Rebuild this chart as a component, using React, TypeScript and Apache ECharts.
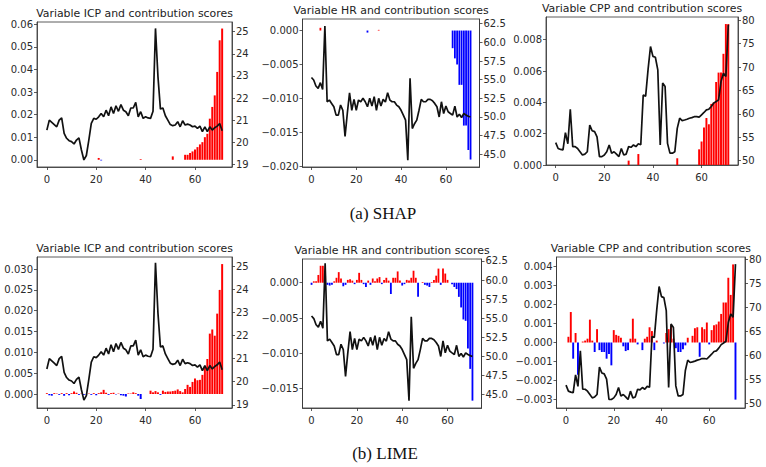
import React, { useEffect, useRef } from "react";
import * as echarts from "echarts";

// ---------------- data ----------------
const steps = Array.from({ length: 72 }, (_, i) => i);

const icpLine = [
  20.55, 21.0, 20.9, 20.8, 20.7, 21.0, 21.1, 20.4, 20.18, 20.07,
  20.03, 19.92, 20.1, 20.2, 19.65, 19.2, 19.4, 20.1, 20.85, 21.08,
  21.04, 21.15, 21.3, 21.15, 21.45, 21.2, 21.6, 21.3, 21.65, 21.4,
  21.7, 21.45, 21.38, 21.2, 21.55, 21.55, 21.8, 21.15, 21.38, 21.08,
  21.15, 21.1, 21.08, 21.4, 25.15, 22.97, 21.5, 21.55, 21.2, 21.0,
  20.8, 20.75, 20.78, 20.93, 20.7, 20.97, 20.78, 20.82, 20.78, 20.7,
  20.73, 20.63, 20.73, 20.48, 20.7, 20.48, 20.7, 20.55, 20.66, 20.73,
  20.85, 20.52,
];
const hrLine = [
  55.3, 54.96, 54.15, 53.84, 54.6, 53.7, 62.2, 52.04, 52.27, 51.82,
  51.37, 50.25, 50.25, 51.6, 50.9, 47.4, 50.47, 53.25, 50.9, 52.36,
  50.9, 52.27, 52.04, 52.5, 52.04, 51.37, 52.5, 51.46, 52.72, 50.9,
  52.5, 51.46, 52.36, 52.0, 53.25, 52.27, 52.04, 52.04, 51.6, 51.37,
  50.9, 50.25, 49.58, 44.2, 55.2, 48.45, 49.1, 49.58, 50.9, 52.36,
  52.04, 52.04, 52.36, 52.36, 52.18, 51.82, 51.37, 50.0, 52.04, 50.47,
  51.46, 50.7, 50.47, 50.25, 51.46, 50.0, 50.38, 49.93, 50.47, 50.25,
  50.11, 50.0,
];
const cppLine = [
  53.86, 52.6, 52.4, 52.3, 56.0, 53.6, 61.0, 53.0, 53.0, 52.6,
  51.9, 51.2, 51.4, 51.9, 57.6, 56.4, 56.2, 55.1, 50.86, 50.86,
  51.2, 51.9, 53.36, 51.6, 51.9, 51.4, 50.86, 52.6, 51.2, 51.4,
  53.0, 52.86, 53.36, 53.0, 53.6, 53.4, 64.0, 63.8, 69.5, 74.4,
  72.3, 72.1, 69.4, 53.36, 66.6, 65.86, 53.7, 51.6, 51.6, 51.9,
  56.9, 59.07, 58.57, 58.7, 58.86, 59.07, 59.2, 59.4, 59.4, 59.3,
  59.8, 60.3, 60.86, 61.0, 61.57, 62.3, 62.64, 63.0, 66.9, 68.7,
  68.0, 79.07,
];

const shapICP = [
  0, 0, 0, 0, 0, 0, 0, 0, 0, 0,
  0, 0, 0, 0, 0, 0, 0, 0, 0, 0,
  0, 0.0008, -0.0003, 0, 0, 0, 0, 0, 0, 0,
  0, 0, 0, 0, 0, 0, 0, 0, 0.0003, 0,
  0, 0, 0, 0, 0, 0, 0, 0, 0, 0,
  0, 0.0015, 0, 0, 0, 0, 0.0022, 0.0022, 0.003, 0.0037,
  0.0046, 0.0056, 0.0068, 0.0078, 0.01, 0.0115, 0.0182, 0.0234, 0.0285, 0.0389,
  0.0529, 0.0581,
];
const shapHR = [
  0, 0, 0, 0, 0.0004, 0, 0, 0, 0, 0,
  0, 0, 0, 0, 0, 0, 0, 0, 0, 0,
  0, 0, 0, 0, 0, -0.0003, 0, 0, 0, 0,
  0.0001, 0, 0, 0, 0, 0, 0, 0, 0, 0,
  0, 0, 0, 0, 0, 0, 0, 0, 0, 0,
  0, 0, 0, 0, 0, 0, 0, 0, 0, 0,
  0, 0, 0, -0.0026, -0.0041, -0.005, -0.008, -0.008, -0.014, -0.014,
  -0.0176, -0.019,
];
const shapCPP = [
  0, 0, 0, 0, 0, 0, 0, 0, 0, 0,
  0, 0, 0, 0, 0, 0, 0, 0, 0, 0,
  0, 0, 0, 0, 0, 0, 0, 0, 0, 0,
  0.00028, 0, 0, 0, 0.0007, 0, 0, 0, 0, 0,
  0, 0, 0, 0, 0, 0, 0, 0, 0, 0,
  0.00043, 0, 0, 0, 0, 0, 0, 0, 0, 0.001,
  0.0015, 0.0024, 0.003, 0.0026, 0.0039, 0.004, 0.0053, 0.0059, 0.0059, 0.0071,
  0.009, 0.009,
];
const limeICP = [
  0.0002, -0.0003, -0.0004, 0.0002, 0.0001, -0.0002, 0.0002, -0.0004, 0.0002, -0.0003,
  0.0002, 0.0006, 0.0003, -0.0002, 0.0001, -0.0002, -0.0001, 0.0001, -0.0002, 0.0002,
  -0.0003, 0.0002, 0.0004, 0.001, 0.0003, -0.0002, 0.0002, 0.0003, -0.0001, 0.0001,
  -0.0003, -0.0004, -0.0006, 0.0001, 0.0001, 0.0004, 0.0002, -0.0004, -0.0012, 0,
  0, 0, 0.0008, 0.0004, 0.0007, 0.0004, -0.0002, 0.0008, 0.0005, 0.0006,
  0.0006, 0.0007, 0.0008, 0.0011, 0.0007, 0.0004, 0.0012, 0.0022, 0.0017, 0.0029,
  0.0037, 0.0033, 0.0034, 0.0046, 0.0067, 0.0084, 0.0145, 0.0155, 0.014, 0.0193,
  0.025, 0.0312,
];
const limeHR = [
  -0.0003, 0.0002, 0.0002, 0.0011, 0.0024, 0.0024, 0.001, -0.0003, -0.0004, -0.0003,
  0.0002, 0.0007, 0.0015, 0.0006, -0.0005, -0.0003, 0.0004, 0.0005, 0.0003, -0.0002,
  0.0004, 0.0014, 0.0004, -0.0002, -0.0006, 0.0003, -0.0003, 0.0006, 0.0002, 0.0006,
  0.0008, -0.0002, 0.0004, 0.0007, 0.0003, -0.0016, 0.0007, 0.0007, 0.0016, 0.0003,
  -0.0004, -0.0002, 0.0004, 0.0003, 0.0007, 0.0017, 0.0007, -0.002, 0, 0.0001,
  -0.0003, -0.0004, -0.0006, 0.0001, 0.0004, 0.001, 0.002, -0.0003, 0.002, 0.0013,
  0.0004, 0, -0.0002, -0.0006, -0.0009, -0.002, -0.0035, -0.0052, -0.0054, -0.0093,
  -0.0122, -0.0167,
];
const limeCPP = [
  0, 0.0003, 0.0016, -0.00085, 0.0005, -0.0017, 0, 0.00005, 0.0001, 0.0002,
  0.0012, 0.0001, -0.0005, 0.0007, -0.0004, -0.0005, -0.0005, -0.00085, -0.0006, -0.0012,
  0.00065, 0.0004, 0.00035, 0.00025, -0.0002, -0.00045, -0.0004, 0.0002, 0.00125, 0.0002,
  -0.0001, 0, -0.0004, 0.0002, 0.0003, 0.0008, 0.0006, -0.0004, 0.0001, 0,
  0, -0.00005, 0.0005, 0.0007, 0.0009, 0.0002, -0.0003, -0.0005, -0.0005, -0.00035,
  -0.00015, 0.00025, 0, 0.00035, 0.00075, 0.0008, -0.00075, 0.0008, 0.0007, 0.00105,
  -0.0001, 0.00065, 0.0009, 0.00095, 0.0011, 0.0015, 0.0021, 0.0021, 0.0034, 0.0025,
  0.0041, -0.003,
];

// tick labels
const xTicks = [0, 20, 40, 60];
const icpShapTicks = [0, 0.01, 0.02, 0.03, 0.04, 0.05, 0.06];
const hrShapTicks = [-0.02, -0.015, -0.01, -0.005, 0];
const cppShapTicks = [0, 0.002, 0.004, 0.006, 0.008];
const icpLimeTicks = [0, 0.005, 0.01, 0.015, 0.02, 0.025, 0.03];
const hrLimeTicks = [-0.015, -0.01, -0.005, 0];
const cppLimeTicks = [-0.003, -0.002, -0.001, 0, 0.001, 0.002, 0.003, 0.004];
const icpTicks = [19, 20, 21, 22, 23, 24, 25];
const hrTicks = [45, 47.5, 50, 52.5, 55, 57.5, 60, 62.5];
const cppTicks = [50, 55, 60, 65, 70, 75, 80];

const titles = [
  "Variable ICP and contribution scores",
  "Variable HR and contribution scores",
  "Variable CPP and contribution scores",
];
const captions = ["(a) SHAP", "(b) LIME"];

// ---------------- layout ----------------
const FONT = "'DejaVu Sans', sans-serif";
const SERIF = "'Liberation Serif', 'Times New Roman', serif";
const X_MIN = -3.99;
const X_MAX = 74.99;

const panels = [
  { title: titles[0], line: icpLine, bars: shapICP, box: [37, 22, 195, 145], yL: [-0.0032, 0.061], yR: [18.88, 25.44], tL: icpShapTicks, dL: 2, tR: icpTicks, dR: 0 },
  { title: titles[1], line: hrLine, bars: shapHR, box: [302.5, 19, 177, 148], yL: [-0.0201, 0.0017], yR: [43.3, 63.13], tL: hrShapTicks, dL: 3, tR: hrTicks, dR: 1 },
  { title: titles[2], line: cppLine, bars: shapCPP, box: [546, 17, 192, 148], yL: [0, 0.00945], yR: [49.07, 80.71], tL: cppShapTicks, dL: 3, tR: cppTicks, dR: 0 },
  { title: titles[0], line: icpLine, bars: limeICP, box: [37, 257, 195, 151], yL: [-0.00336, 0.0329], yR: [18.86, 25.4], tL: icpLimeTicks, dL: 3, tR: icpTicks, dR: 0 },
  { title: titles[1], line: hrLine, bars: limeHR, box: [302.5, 259, 179, 149], yL: [-0.01774, 0.00336], yR: [43.25, 62.76], tL: hrLimeTicks, dL: 3, tR: hrTicks, dR: 1 },
  { title: titles[2], line: cppLine, bars: limeCPP, box: [556.5, 257, 188.5, 151], yL: [-0.00344, 0.00449], yR: [49.09, 80.56], tL: cppLimeTicks, dL: 3, tR: cppTicks, dR: 0 },
];

const fmt = (d: number) => (v: number) => Number(v).toFixed(d).replace("-", "\u2212");

const AX = "#333";
const TXT = "#2a2a2a";
const tickStyle = { color: AX, width: 0.8 };
const TICK_FS = 10;

function buildOption() {
  const grid: any[] = [];
  const xAxis: any[] = [];
  const yAxis: any[] = [];
  const series: any[] = [];
  const graphic: any[] = [];

  panels.forEach((p, k) => {
    const [left, top, width, height] = p.box;
    grid.push({ left, top, width, height, show: true, borderColor: AX, borderWidth: 0.8, backgroundColor: "transparent" });
    xAxis.push({
      gridIndex: k,
      type: "value",
      min: X_MIN,
      max: X_MAX,
      axisLine: { show: true, onZero: false, lineStyle: tickStyle },
      axisTick: { show: true, length: 3, customValues: xTicks, lineStyle: tickStyle },
      axisLabel: { customValues: xTicks, margin: 7, fontSize: TICK_FS, color: TXT, fontFamily: FONT, formatter: fmt(0) },
      splitLine: { show: false },
    });
    yAxis.push({
      gridIndex: k,
      type: "value",
      position: "left",
      min: p.yL[0],
      max: p.yL[1],
      axisLine: { show: true, onZero: false, lineStyle: tickStyle },
      axisTick: { show: true, length: 3, customValues: p.tL, lineStyle: tickStyle },
      axisLabel: { customValues: p.tL, margin: 4, fontSize: TICK_FS, color: TXT, fontFamily: FONT, formatter: fmt(p.dL) },
      splitLine: { show: false },
    });
    yAxis.push({
      gridIndex: k,
      type: "value",
      position: "right",
      min: p.yR[0],
      max: p.yR[1],
      axisLine: { show: true, onZero: false, lineStyle: tickStyle },
      axisTick: { show: true, length: 3, customValues: p.tR, lineStyle: tickStyle },
      axisLabel: { customValues: p.tR, margin: 4, fontSize: TICK_FS, color: TXT, fontFamily: FONT, formatter: fmt(p.dR) },
      splitLine: { show: false },
    });
    const barW = (width / (X_MAX - X_MIN)) * 0.8;
    series.push({
      type: "bar",
      xAxisIndex: k,
      yAxisIndex: 2 * k,
      barWidth: barW,
      z: 2,
      data: steps.map((i) => [i, p.bars[i]]),
      itemStyle: {
        color: (prm: any) => (prm.value[1] >= 0 ? "#ff0000" : "#0000ff"),
      },
    });
    series.push({
      type: "line",
      xAxisIndex: k,
      yAxisIndex: 2 * k + 1,
      z: 3,
      symbol: "none",
      data: steps.map((i) => [i, p.line[i]]),
      lineStyle: { color: "#111", width: 1.7 },
    });
    graphic.push({
      type: "text",
      x: left + width / 2,
      y: top - 9,
      style: {
        text: p.title,
        fontSize: 10.9,
        fontFamily: FONT,
        fill: "#222",
        textAlign: "center",
        textVerticalAlign: "middle",
      },
    });
  });

  graphic.push({
    type: "text",
    x: 383,
    y: 213,
    style: { text: captions[0], fontSize: 17, fontFamily: SERIF, fill: "#111", textAlign: "center", textVerticalAlign: "middle" },
  });
  graphic.push({
    type: "text",
    x: 385,
    y: 453,
    style: { text: captions[1], fontSize: 17, fontFamily: SERIF, fill: "#111", textAlign: "center", textVerticalAlign: "middle" },
  });

  return {
    animation: false,
    backgroundColor: "#ffffff",
    grid,
    xAxis,
    yAxis,
    series,
    graphic,
  };
}

export default function App() {
  const ref = useRef<HTMLDivElement>(null);
  useEffect(() => {
    if (!ref.current) return;
    const chart = echarts.init(ref.current, null, { renderer: "svg" });
    chart.setOption(buildOption() as any);
    return () => chart.dispose();
  }, []);
  return (
    <div
      ref={ref}
      style={{ position: "fixed", left: 0, top: 0, width: 766, height: 467, background: "#fff" }}
    />
  );
}
